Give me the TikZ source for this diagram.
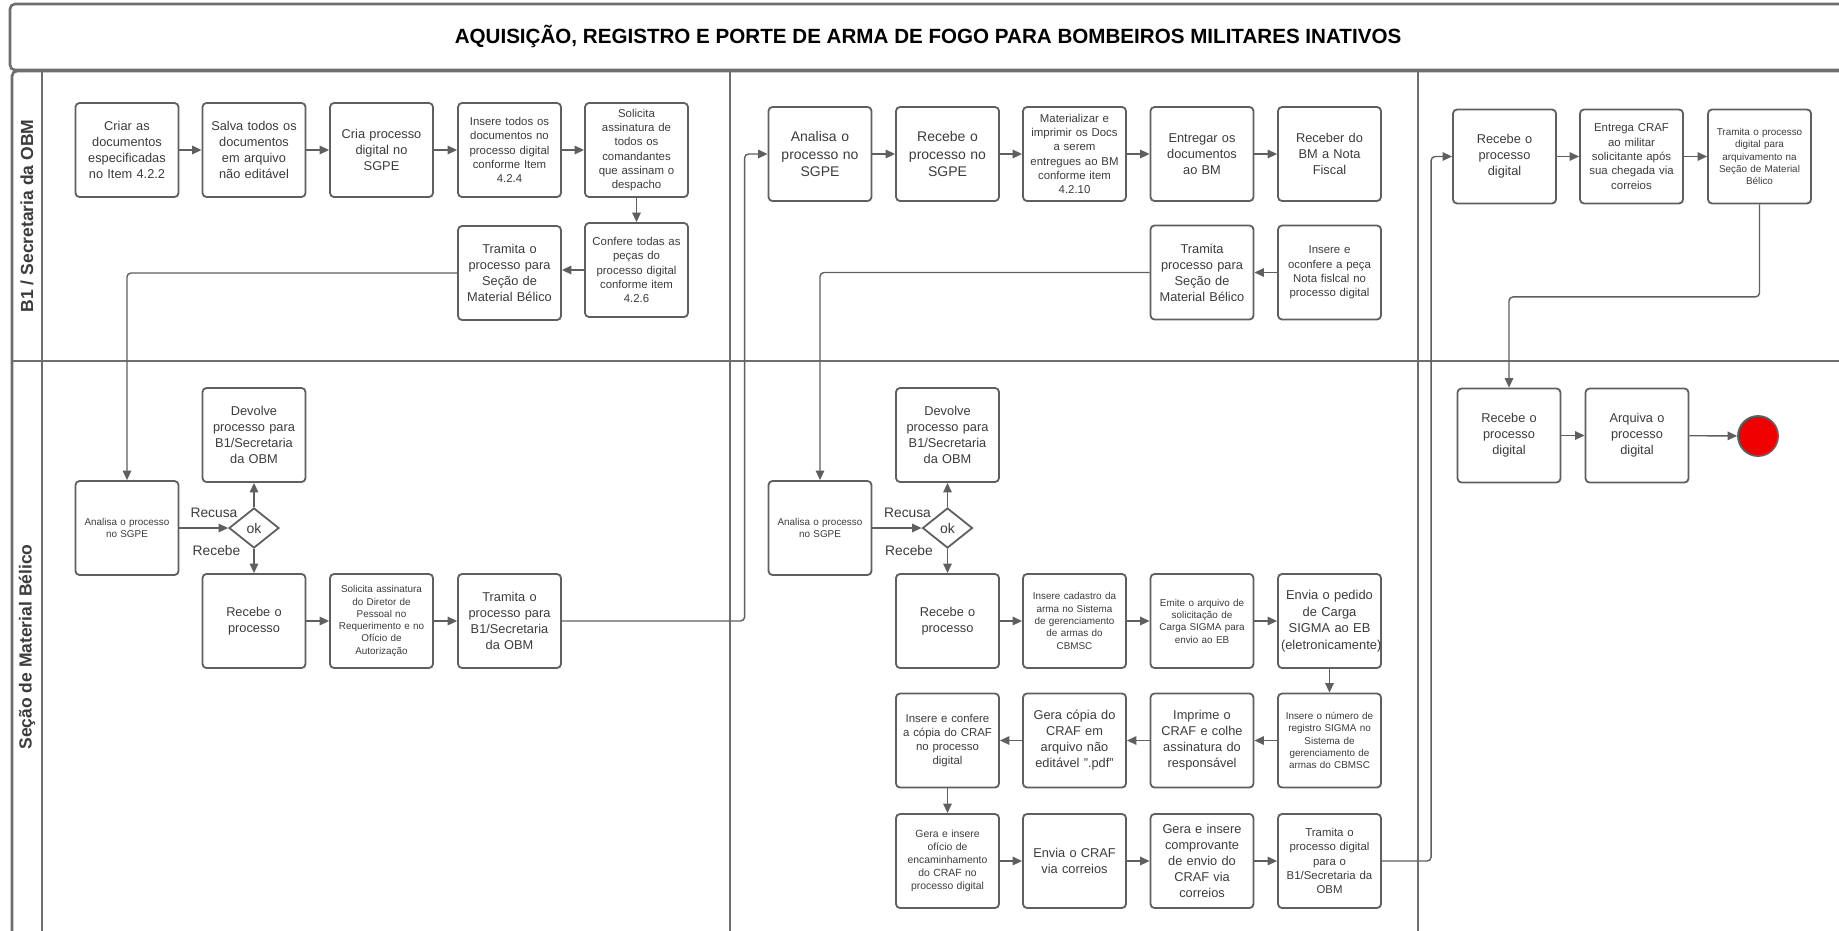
\documentclass[tikz,border=0pt]{standalone}
\usepackage{fontspec}
\setmainfont{Liberation Sans}
\usetikzlibrary{arrows.meta,shapes.geometric,calc}
\definecolor{ln}{HTML}{5F5F5F}
\definecolor{tx}{HTML}{3C3C3C}
\definecolor{lanec}{HTML}{6E6E6E}
\definecolor{endred}{HTML}{F00000}
\tikzset{
 box/.style={draw=ln, line width=1.8pt, rounded corners=4pt, fill=white, minimum width=103pt, minimum height=94pt, text width=97pt, align=center, inner sep=0pt, text=tx},
 fL/.style={font=\fontsize{14}{17.5}\selectfont},
 fM/.style={font=\fontsize{12.8}{16}\selectfont},
 fE/.style={font=\fontsize{12.9}{16.5}\selectfont},
 fS/.style={font=\fontsize{11.4}{14.3}\selectfont},
 fX/.style={font=\fontsize{9.9}{12.3}\selectfont},
 fXb/.style={font=\fontsize{10.4}{13}\selectfont},
 conn/.style={draw=ln, line width=1.4pt, -{Triangle[length=9.5pt,width=8.5pt]}, rounded corners=4pt},
 lanel/.style={draw=lanec, line width=2.6pt},
 dec/.style={diamond, draw=ln, line width=1.8pt, fill=white, minimum width=50pt, minimum height=40pt, inner sep=0pt, text=tx, font=\fontsize{14}{16}\selectfont},
 lbl/.style={text=tx, font=\fontsize{13.8}{16}\selectfont, inner sep=0pt},
 lanetxt/.style={rotate=90, text=tx, font=\bfseries\fontsize{17.5}{20}\selectfont},
}
\begin{document}
\begin{tikzpicture}[x=1pt,y=-1pt]
\useasboundingbox (0,0) rectangle (1839,930);
\clip (0,0) rectangle (1839,930);
\fill[white] (0,0) rectangle (1839,930);
% title
\draw[lanel, rounded corners=5pt] (10,4) rectangle (1848,70);
\node[font=\bfseries\fontsize{20.6}{23}\selectfont, text=black] (title) at (928,36) {AQUISIÇÃO, REGISTRO E PORTE DE ARMA DE FOGO PARA BOMBEIROS MILITARES INATIVOS};
% pool and lanes
\draw[lanel, rounded corners=5pt] (12,71) rectangle (1848,960);
\draw[lanel] (42,71) -- (42,960);
\draw[lanel] (12,361) -- (1848,361);
\draw[lanel] (730,71) -- (730,960);
\draw[lanel] (1418,71) -- (1418,960);
\node[lanetxt] (l1) at (27,216) {B1 / Secretaria da OBM};
\node[lanetxt] (l2) at (27,647) {Seção de Material Bélico};

% column 1, top lane
\node[box,fM] (a1) at (127,150) {Criar as\\documentos\\especificadas\\no Item 4.2.2};
\node[box,fM] (a2) at (254,150) {Salva todos os\\documentos\\em arquivo\\não editável};
\node[box,fM] (a3) at (381.5,150) {Cria processo\\digital no\\SGPE};
\node[box,fS] (a4) at (509.5,150) {Insere todos os\\documentos no\\processo digital\\conforme Item\\4.2.4};
\node[box,fS] (a5) at (636.5,150) {Solicita\\assinatura de\\todos os\\comandantes\\que assinam o\\despacho};
\node[box,fS] (a6) at (636.5,270) {Confere todas as\\peças do\\processo digital\\conforme item\\4.2.6};
\node[box,fM] (a7) at (509.5,273) {Tramita o\\processo para\\Seção de\\Material Bélico};

% column 1, lower lane
\node[box,fX] (b1) at (127,528) {Analisa o processo\\no SGPE};
\node[box,fM] (b2) at (254,435) {Devolve\\processo para\\B1/Secretaria\\da OBM};
\node[dec] (d1) at (254,528) {ok};
\node[box,fM] (b3) at (254,621) {Recebe o\\processo};
\node[box,fX] (b4) at (381.5,621) {Solicita assinatura\\do Diretor de\\Pessoal no\\Requerimento e no\\Ofício de\\Autorização};
\node[box,fM] (b5) at (509.5,621) {Tramita o\\processo para\\B1/Secretaria\\da OBM};
\node[lbl] (r1) at (214,513) {Recusa};
\node[lbl] (s1) at (216.5,551) {Recebe};

% column 2, top lane
\node[box,fL] (c1) at (820,154) {Analisa o\\processo no\\SGPE};
\node[box,fL] (c2) at (947.5,154) {Recebe o\\processo no\\SGPE};
\node[box,fS] (c3) at (1074.5,154) {Materializar e\\imprimir os Docs\\a serem\\entregues ao BM\\conforme item\\4.2.10};
\node[box,fM] (c4) at (1202,154) {Entregar os\\documentos\\ao BM};
\node[box,fM] (c5) at (1329.5,154) {Receber do\\BM a Nota\\Fiscal};
\node[box,fM] (c6) at (1202,272.5) {Tramita\\processo para\\Seção de\\Material Bélico};
\node[box,fS] (c7) at (1329.5,272.5) {Insere e\\oconfere a peça\\Nota fislcal no\\processo digital};

% column 2, lower lane
\node[box,fX] (e1) at (820,528) {Analisa o processo\\no SGPE};
\node[box,fM] (e2) at (947.5,435) {Devolve\\processo para\\B1/Secretaria\\da OBM};
\node[dec] (d2) at (947.5,528) {ok};
\node[box,fM] (e3) at (947.5,621) {Recebe o\\processo};
\node[box,fX] (e4) at (1074.5,621) {Insere cadastro da\\arma no Sistema\\de gerenciamento\\de armas do\\CBMSC};
\node[box,fX] (e5) at (1202,621) {Emite o arquivo de\\solicitação de\\Carga SIGMA para\\envio ao EB};
\node[box,fE] (e6) at (1329.5,621) {Envia o pedido\\de Carga\\SIGMA ao EB\\(eletronicamente)};
\node[lbl] (r2) at (907.5,513) {Recusa};
\node[lbl] (s2) at (909,551) {Recebe};

\node[box,fS] (g1) at (947.5,740.5) {Insere e confere\\a cópia do CRAF\\no processo\\digital};
\node[box,fM] (g2) at (1074.5,740.5) {Gera cópia do\\CRAF em\\arquivo não\\editável ".pdf"};
\node[box,fM] (g3) at (1202,740.5) {Imprime o\\CRAF e colhe\\assinatura do\\responsável};
\node[box,fX] (g4) at (1329.5,740.5) {Insere o número de\\registro SIGMA no\\Sistema de\\gerenciamento de\\armas do CBMSC};

\node[box,fXb] (h1) at (947.5,861) {Gera e insere\\ofício de\\encaminhamento\\do CRAF no\\processo digital};
\node[box,fM] (h2) at (1074.5,861) {Envia o CRAF\\via correios};
\node[box,fM] (h3) at (1202,861) {Gera e insere\\comprovante\\de envio do\\CRAF via\\correios};
\node[box,fS] (h4) at (1329.5,861) {Tramita o\\processo digital\\para o\\B1/Secretaria da\\OBM};

% column 3
\node[box,fM] (k1) at (1504.5,156.5) {Recebe o\\processo\\digital};
\node[box,fS] (k2) at (1631.5,156.5) {Entrega CRAF\\ao militar\\solicitante após\\sua chegada via\\correios};
\node[box,fX] (k3) at (1759.5,156.5) {Tramita o processo\\digital para\\arquivamento na\\Seção de Material\\Bélico};
\node[box,fM] (m1) at (1509,435.5) {Recebe o\\processo\\digital};
\node[box,fM] (m2) at (1637,435.5) {Arquiva o\\processo\\digital};
\node[circle, draw=ln, line width=1.8pt, fill=endred, minimum size=40pt, inner sep=0pt] (fim) at (1758,436) {};

% connectors column 1
\draw[conn] (a1) -- (a2);
\draw[conn] (a2) -- (a3);
\draw[conn] (a3) -- (a4);
\draw[conn] (a4) -- (a5);
\draw[conn] (a5) -- (a6);
\draw[conn] (a6.west) -- (a6.west -| a7.east);
\draw[conn] (a7.west) -| (b1.north);
\draw[conn] (b1) -- (d1);
\draw[conn] (d1) -- (b2);
\draw[conn] (d1) -- (b3);
\draw[conn] (b3) -- (b4);
\draw[conn] (b4) -- (b5);
\draw[conn] (b5.east) -| ([xshift=-23pt]c1.west) -- (c1.west);

% connectors column 2
\draw[conn] (c1) -- (c2);
\draw[conn] (c2) -- (c3);
\draw[conn] (c3) -- (c4);
\draw[conn] (c4) -- (c5);
\draw[conn] (c7) -- (c6);
\draw[conn] (c6.west) -| (e1.north);
\draw[conn] (e1) -- (d2);
\draw[conn] (d2) -- (e2);
\draw[conn] (d2) -- (e3);
\draw[conn] (e3) -- (e4);
\draw[conn] (e4) -- (e5);
\draw[conn] (e5) -- (e6);
\draw[conn] (e6) -- (g4);
\draw[conn] (g4) -- (g3);
\draw[conn] (g3) -- (g2);
\draw[conn] (g2) -- (g1);
\draw[conn] (g1) -- (h1);
\draw[conn] (h1) -- (h2);
\draw[conn] (h2) -- (h3);
\draw[conn] (h3) -- (h4);
\draw[conn] (h4.east) -| ([xshift=-21pt]k1.west) -- (k1.west);

% connectors column 3
\draw[conn] (k1) -- (k2);
\draw[conn] (k2) -- (k3);
\draw[conn] (k3.south) -- ++(0,92.5) -| (m1.north);
\draw[conn] (m1) -- (m2);
\draw[conn] (m2) -- (fim);
\end{tikzpicture}
\end{document}
